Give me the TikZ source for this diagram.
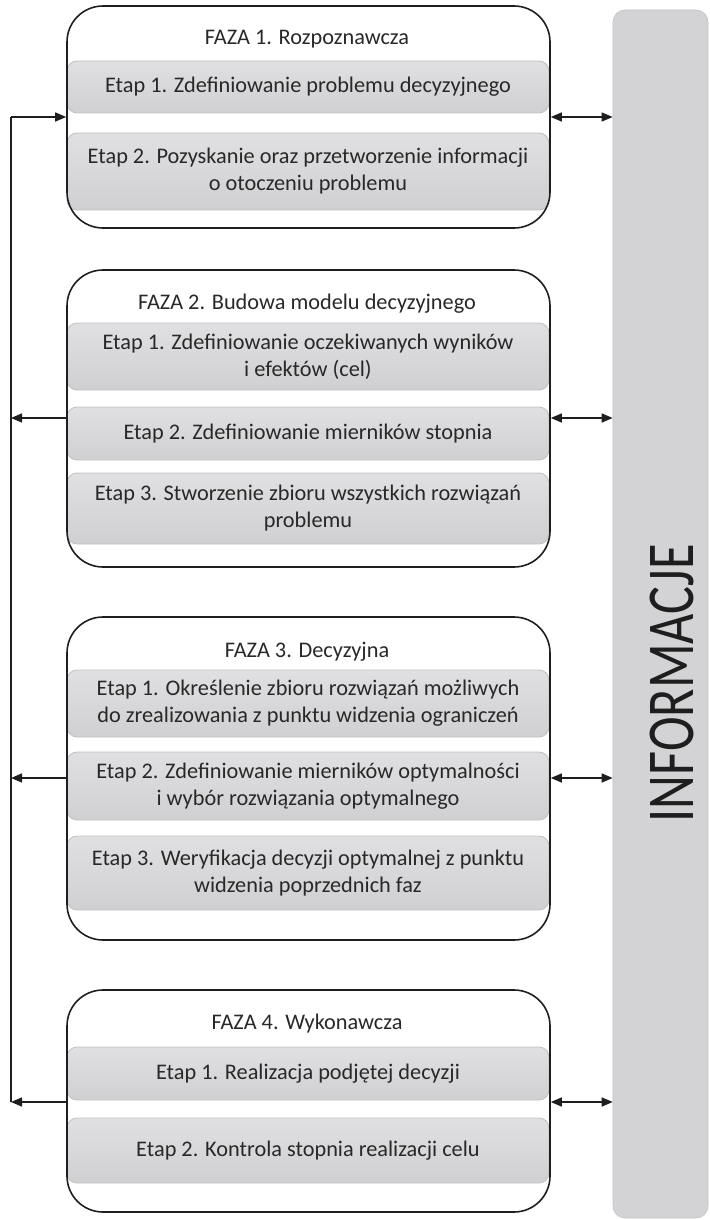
\documentclass[tikz,border=0pt]{standalone}
\usepackage{fontspec}
\setmainfont{Carlito}
\usetikzlibrary{arrows.meta}

\definecolor{ink}{RGB}{30,30,30}
\definecolor{textgray}{RGB}{40,40,40}
\definecolor{stagetop}{RGB}{224,224,226}
\definecolor{stagebot}{RGB}{208,208,210}
\definecolor{stageedge}{RGB}{192,192,194}
\definecolor{barfill}{RGB}{211,211,213}
\definecolor{baredge}{RGB}{196,196,198}

\newcommand{\stagefont}{\fontsize{22.3}{27}\selectfont}

\tikzset{
  phasebox/.style={draw=ink, line width=1.6pt, rounded corners=36pt,
    minimum width=483pt, inner sep=0pt},
  stagebox/.style={draw=stageedge, line width=0.8pt, rounded corners=10pt,
    top color=stagetop, bottom color=stagebot, minimum width=482pt,
    inner sep=0pt, align=center, font=\stagefont, text=textgray},
  phasetitle/.style={font=\stagefont, inner sep=0pt, text=textgray},
  infobar/.style={draw=baredge, fill=barfill, line width=0.6pt,
    rounded corners=12pt, inner sep=0pt},
  link/.style={draw=ink, line width=1.4pt},
  tipend/.style={-{Triangle[length=11pt,width=9pt]}},
  tipboth/.style={{Triangle[length=11pt,width=9pt]}-{Triangle[length=11pt,width=9pt]}},
}

\begin{document}
\begin{tikzpicture}[x=1pt,y=-1pt]
\useasboundingbox (0,0) rectangle (709,1220);

% information bar on the right
\node[infobar, minimum width=95pt, minimum height=1208pt] (info) at (660.5,614) {};
\node[rotate=90, inner sep=0pt, text=ink] (infolabel) at (672,683)
  {\scalebox{0.78}[1]{\fontsize{67}{67}\selectfont INFORMACJE}};

% phase 1
\node[stagebox, minimum height=52pt] (s11) at (308,87)
  {Etap 1. Zdefiniowanie problemu decyzyjnego};
\node[stagebox, minimum height=77pt] (s12) at (308,171.5)
  {Etap 2. Pozyskanie oraz przetworzenie informacji\\o otoczeniu problemu};
\node[phasebox, minimum height=222pt] (p1) at (308.5,117) {};
\node[phasetitle] (t1) at (307,39) {FAZA 1. Rozpoznawcza};

% phase 2
\node[stagebox, minimum height=67pt] (s21) at (308,356.5)
  {Etap 1. Zdefiniowanie oczekiwanych wyników\\i efektów (cel)};
\node[stagebox, minimum height=53pt] (s22) at (308,433.5)
  {Etap 2. Zdefiniowanie mierników stopnia};
\node[stagebox, minimum height=71pt] (s23) at (308,508.5)
  {Etap 3. Stworzenie zbioru wszystkich rozwiązań\\problemu};
\node[phasebox, minimum height=297pt] (p2) at (308.5,418.5) {};
\node[phasetitle] (t2) at (307,304) {FAZA 2. Budowa modelu decyzyjnego};

% phase 3
\node[stagebox, minimum height=67pt] (s31) at (308,703.5)
  {Etap 1. Określenie zbioru rozwiązań możliwych\\do zrealizowania z punktu widzenia ograniczeń};
\node[stagebox, minimum height=68pt] (s32) at (308,786)
  {Etap 2. Zdefiniowanie mierników optymalności\\i wybór rozwiązania optymalnego};
\node[stagebox, minimum height=74pt] (s33) at (308,873)
  {Etap 3. Weryfikacja decyzji optymalnej z punktu\\widzenia poprzednich faz};
\node[phasebox, minimum height=323pt] (p3) at (308.5,778.5) {};
\node[phasetitle] (t3) at (307,652) {FAZA 3. Decyzyjna};

% phase 4
\node[stagebox, minimum height=53pt] (s41) at (308,1073.5)
  {Etap 1. Realizacja podjętej decyzji};
\node[stagebox, minimum height=65pt] (s42) at (308,1150.5)
  {Etap 2. Kontrola stopnia realizacji celu};
\node[phasebox, minimum height=222pt] (p4) at (308.5,1101) {};
\node[phasetitle] (t4) at (307,1024) {FAZA 4. Wykonawcza};

% feedback loop on the left
\coordinate (L1) at (11,117);
\coordinate (L2) at (11,418);
\coordinate (L3) at (11,778);
\coordinate (L4) at (11,1102);
\draw[link] (L4) -- (L1);
\draw[link,tipend] (L1) -- (L1 -| p1.west);
\draw[link,tipend] (L2 -| p2.west) -- (L2);
\draw[link,tipend] (L3 -| p3.west) -- (L3);
\draw[link,tipend] (L4 -| p4.west) -- (L4);

% exchange with the information bar
\draw[link,tipboth] (L1 -| p1.east) -- (L1 -| info.west);
\draw[link,tipboth] (L2 -| p2.east) -- (L2 -| info.west);
\draw[link,tipboth] (L3 -| p3.east) -- (L3 -| info.west);
\draw[link,tipboth] (L4 -| p4.east) -- (L4 -| info.west);
\end{tikzpicture}
\end{document}
